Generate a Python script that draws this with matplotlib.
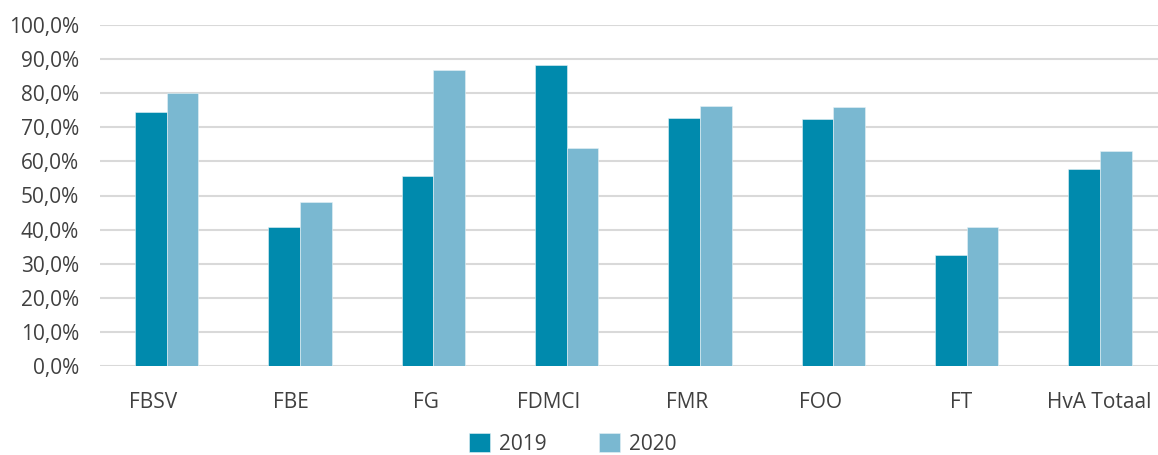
import matplotlib.pyplot as plt
import numpy as np
from matplotlib.ticker import FuncFormatter
from matplotlib.transforms import ScaledTranslation

plt.rcParams['font.family'] = ['Open Sans', 'DejaVu Sans']

faculteiten = ['FBSV', 'FBE', 'FG', 'FDMCI', 'FMR', 'FOO', 'FT', 'HvA Totaal']
jaar_2019 = [74.4, 40.8, 55.8, 88.3, 72.7, 72.5, 32.6, 57.7]
jaar_2020 = [80.0, 48.0, 86.9, 64.0, 76.3, 76.0, 40.7, 63.0]

# horizontale verschuiving van de categorielabels (pixels)
label_dx = [-13.5, -9.5, -7, -18, -12.5, -12.5, -6, -1]

kleur_2019 = '#008aad'
kleur_2020 = '#7ab8d1'
tekst = '#404040'

fig = plt.figure(figsize=(11.58, 4.55), dpi=100)
ax = fig.add_axes([100 / 1158, 89 / 455, 1066.7 / 1158, 341 / 455])

x = np.arange(len(faculteiten))
w = 0.2375
ax.bar(x - w / 2, jaar_2019, w, color=kleur_2019, label='2019',
       edgecolor='#e6f2f6', linewidth=0.4, zorder=3)
ax.bar(x + w / 2, jaar_2020, w, color=kleur_2020, label='2020',
       edgecolor='#e6f2f6', linewidth=0.4, zorder=3)

ax.set_xlim(-0.5, len(faculteiten) - 0.5)
ax.set_ylim(0, 100)
ax.set_yticks(np.arange(0, 101, 10))
ax.yaxis.set_major_formatter(FuncFormatter(lambda v, p: f'{v:.1f}%'.replace('.', ',')))
ax.set_xticks(x)
ax.set_xticklabels(faculteiten)

ax.grid(axis='y', color='#d9d9d9', linewidth=1.5, zorder=0)
for s in ax.spines.values():
    s.set_visible(False)
ax.tick_params(axis='both', length=0, labelsize=15, colors=tekst)
ax.tick_params(axis='y', pad=15)
ax.tick_params(axis='x', pad=19)

for lbl, dx in zip(ax.get_xticklabels(), label_dx):
    lbl.set_transform(lbl.get_transform() + ScaledTranslation(dx / 100, 0, fig.dpi_scale_trans))

fig.legend(loc='center', bbox_to_anchor=(573 / 1158, 11 / 455), ncol=2,
           frameon=False, fontsize=15, labelcolor=tekst,
           handlelength=1.0, handleheight=1.0, handletextpad=0.45,
           columnspacing=2.5)

fig.savefig('out.png', dpi=100)
